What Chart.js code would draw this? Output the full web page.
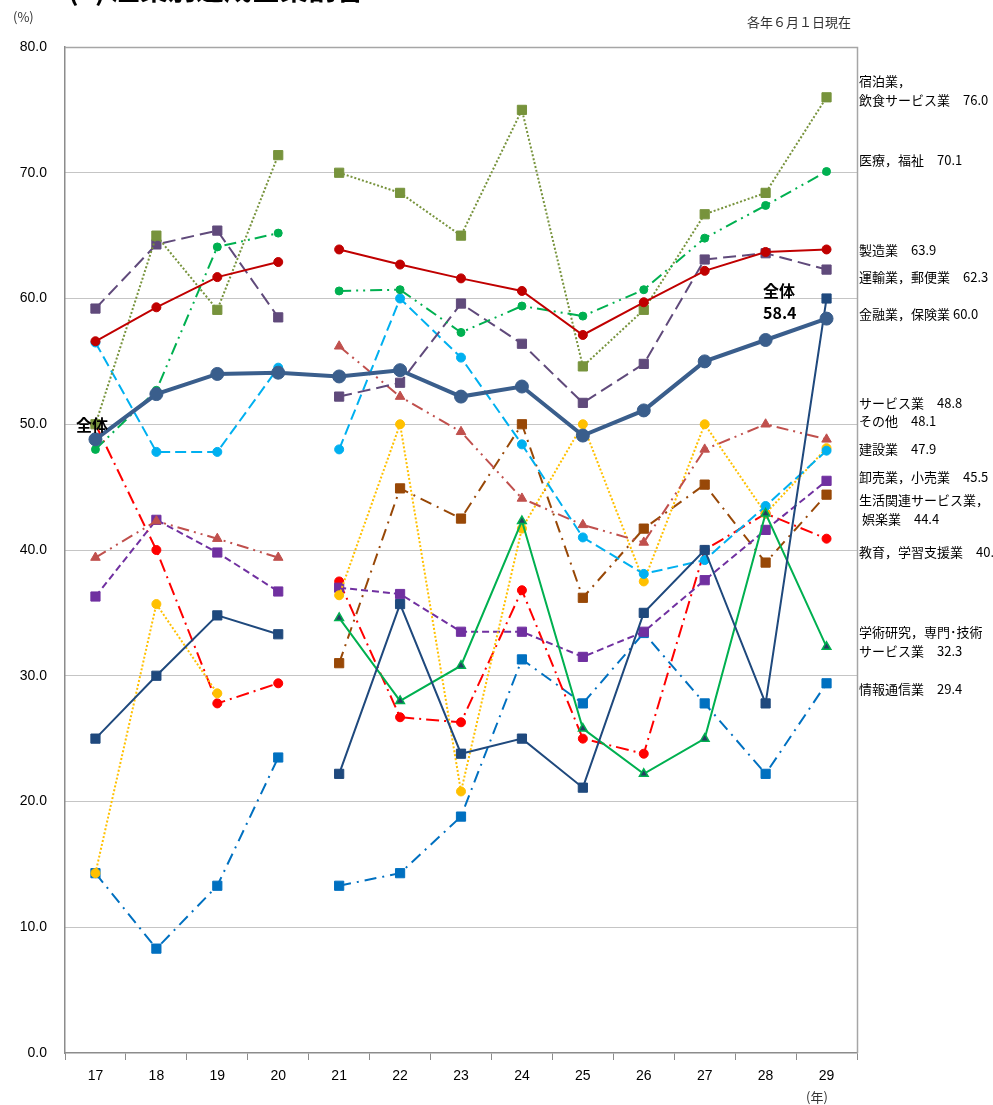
<!DOCTYPE html>
<html lang="ja">
<head>
<meta charset="utf-8">
<script src="https://cdn.jsdelivr.net/npm/chart.js@4/dist/chart.umd.min.js"></script>
<style>
  html, body { margin: 0; padding: 0; background: #fff; }
  #wrap { width: 993px; height: 1105px; position: relative; }
</style>
</head>
<body>
<div id="wrap"><canvas id="c" width="993" height="1105"></canvas></div>
<script>
// 年次（平成）
const years = ['17', '18', '19', '20', '21', '22', '23', '24', '25', '26', '27', '28', '29'];
const yTicks = [0, 10, 20, 30, 40, 50, 60, 70, 80];

// 産業別 達成企業割合（%）
const zentai      = [48.8, 52.4, 54.0, 54.1, 53.8, 54.3, 52.2, 53.0, 49.1, 51.1, 55.0, 56.7, 58.4];
const shukuhaku   = [50.0, 65.0, 59.1, 71.4, 70.0, 68.4, 65.0, 75.0, 54.6, 59.1, 66.7, 68.4, 76.0];
const iryo        = [48.0, 52.7, 64.1, 65.2, 60.6, 60.7, 57.3, 59.4, 58.6, 60.7, 64.8, 67.4, 70.1];
const seizo       = [56.6, 59.3, 61.7, 62.9, 63.9, 62.7, 61.6, 60.6, 57.1, 59.7, 62.2, 63.7, 63.9];
const unyu        = [59.2, 64.3, 65.4, 58.5, 52.2, 53.3, 59.6, 56.4, 51.7, 54.8, 63.1, 63.6, 62.3];
const kinyu       = [25.0, 30.0, 34.8, 33.3, 22.2, 35.7, 23.8, 25.0, 21.1, 35.0, 40.0, 27.8, 60.0];
const service     = [39.4, 42.3, 40.9, 39.4, 56.2, 52.2, 49.4, 44.1, 42.0, 40.6, 48.0, 50.0, 48.8];
const sonota      = [14.3, 35.7, 28.6, null, 36.4, 50.0, 20.8, 41.7, 50.0, 37.5, 50.0, 42.9, 48.1];
const kensetsu    = [56.5, 47.8, 47.8, 54.5, 48.0, 60.0, 55.3, 48.4, 41.0, 38.1, 39.2, 43.5, 47.9];
const oroshi      = [36.3, 42.4, 39.8, 36.7, 37.0, 36.5, 33.5, 33.5, 31.5, 33.5, 37.6, 41.6, 45.5];
const seikatsu    = [null, null, null, null, 31.0, 44.9, 42.5, 50.0, 36.2, 41.7, 45.2, 39.0, 44.4];
const kyoiku      = [50.0, 40.0, 27.8, 29.4, 37.5, 26.7, 26.3, 36.8, 25.0, 23.8, 40.0, 42.9, 40.9];
const gakujutsu   = [null, null, null, null, 34.6, 28.0, 30.8, 42.3, 25.8, 22.2, 25.0, 42.9, 32.3];
const joho        = [14.3, 8.3, 13.3, 23.5, 13.3, 14.3, 18.8, 31.3, 27.8, 33.4, 27.8, 22.2, 29.4];

// 平成20年と21年の間は産業分類が変わるため線をつながない
const breakAfter20 = {
  borderColor: ctx => (ctx.p0DataIndex === 3 ? 'rgba(0,0,0,0)' : undefined)
};

function series(label, data, color, opts) {
  return Object.assign({
    label: label,
    data: data,
    borderColor: color,
    backgroundColor: color,
    pointBackgroundColor: color,
    pointBorderColor: color,
    borderWidth: 2,
    pointRadius: 4,
    pointHoverRadius: 4,
    pointBorderWidth: 1,
    tension: 0,
    spanGaps: false,
    segment: breakAfter20
  }, opts || {});
}

const datasets = [
  series('全体', zentai, '#3A5E8C', { borderWidth: 4, pointRadius: 6.5, segment: undefined }),
  series('製造業', seizo, '#C00000', { pointRadius: 4.5 }),
  series('金融業，保険業', kinyu, '#1F497D', { pointStyle: 'rect', pointRadius: 6.5 }),
  series('学術研究，専門・技術サービス業', gakujutsu, '#00B050', {
    pointStyle: 'triangle', pointRadius: 5, pointBackgroundColor: '#244062', pointBorderColor: '#00B050', pointBorderWidth: 1.5
  }),
  series('医療，福祉', iryo, '#00B050', { borderDash: [12, 5, 2, 5, 2, 5], pointRadius: 4 }),
  series('宿泊業，飲食サービス業', shukuhaku, '#77933C', { borderDash: [2, 2], pointStyle: 'rect', pointRadius: 6.5 }),
  series('運輸業，郵便業', unyu, '#604A7B', { borderDash: [13, 6], pointStyle: 'rect', pointRadius: 6.5 }),
  series('建設業', kensetsu, '#00B0F0', { borderDash: [11, 5], pointRadius: 4.5 }),
  series('サービス業', service, '#C0504D', { borderDash: [12, 5, 2, 5, 2, 5], pointStyle: 'triangle', pointRadius: 5.5 }),
  series('その他', sonota, '#FFC000', { borderDash: [2, 2], pointRadius: 4.5 }),
  series('卸売業，小売業', oroshi, '#7030A0', { borderDash: [7, 4], pointStyle: 'rect', pointRadius: 6.5 }),
  series('生活関連サービス業，娯楽業', seikatsu, '#984807', { borderDash: [12, 6, 2, 6], pointStyle: 'rect', pointRadius: 6.5 }),
  series('教育，学習支援業', kyoiku, '#FF0000', { borderDash: [13, 5, 2, 5], pointRadius: 4.5 }),
  series('情報通信業', joho, '#0070C0', { borderDash: [12, 6, 2, 6], pointStyle: 'rect', pointRadius: 6.5 })
];

// 右側の業種名ラベル
const sideLabels = [
  { y: 81,  text: '宿泊業，' },
  { y: 100, text: '飲食サービス業　76.0' },
  { y: 160, text: '医療，福祉　70.1' },
  { y: 250, text: '製造業　63.9' },
  { y: 277, text: '運輸業，郵便業　62.3' },
  { y: 314, text: '金融業，保険業 60.0' },
  { y: 403, text: 'サービス業　48.8' },
  { y: 421, text: 'その他　48.1' },
  { y: 449, text: '建設業　47.9' },
  { y: 477, text: '卸売業，小売業　45.5' },
  { y: 500, text: '生活関連サービス業，' },
  { y: 519, text: ' 娯楽業　44.4' },
  { y: 552, text: '教育，学習支援業　40.9' },
  { y: 632, text: '学術研究，専門･技術' },
  { y: 651, text: 'サービス業　32.3' },
  { y: 689, text: '情報通信業　29.4' }
];

const jpFont = '"Noto Sans CJK JP", "Noto Sans", sans-serif';

const decorations = {
  id: 'decorations',
  beforeDraw(chart) {
    const ctx = chart.ctx;
    ctx.save();
    ctx.fillStyle = '#ffffff';
    ctx.fillRect(0, 0, chart.width, chart.height);
    ctx.restore();
  },
  beforeDatasetsDraw(chart) {
    const { ctx, chartArea: a } = chart;
    ctx.save();
    ctx.strokeStyle = '#a6a6a6';
    ctx.lineWidth = 1.5;
    ctx.beginPath();
    ctx.moveTo(a.left, a.top + 0.5);
    ctx.lineTo(a.right + 0.5, a.top + 0.5);
    ctx.lineTo(a.right + 0.5, a.bottom);
    ctx.stroke();
    ctx.restore();
  },
  afterDraw(chart) {
    const { ctx, chartArea: a } = chart;
    ctx.save();
    // 表題（上端で切れている）
    ctx.fillStyle = '#000';
    ctx.font = 'bold 28px ' + jpFont;
    ctx.textBaseline = 'alphabetic';
    ctx.textAlign = 'left';
    ctx.fillText('(3) 産業別達成企業割合', 68, 0);

    ctx.font = '13px ' + jpFont;
    ctx.textBaseline = 'middle';
    ctx.fillStyle = '#333';
    ctx.fillText('(%)', 13, 17);
    ctx.textAlign = 'right';
    ctx.fillText('各年６月１日現在', 851, 22);
    ctx.textAlign = 'left';
    ctx.fillText('(年)', 806, 1097);

    ctx.fillStyle = '#000';
    ctx.font = '13px ' + jpFont;
    sideLabels.forEach(l => ctx.fillText(l.text, a.right + 2, l.y));

    // 全体のラベル
    ctx.font = 'bold 16px ' + jpFont;
    ctx.fillText('全体', 76, 425);
    ctx.fillText('全体', 763, 291);
    ctx.fillText('58.4', 763, 313);
    ctx.restore();
  }
};

new Chart(document.getElementById('c'), {
  type: 'line',
  data: { labels: years, datasets: datasets },
  options: {
    responsive: false,
    animation: false,
    events: [],
    layout: { padding: { top: 47, right: 136, left: 0, bottom: 0 } },
    plugins: { legend: { display: false }, tooltip: { enabled: false } },
    scales: {
      x: {
        type: 'category',
        offset: true,
        afterFit: s => { s.height = 52; },
        grid: {
          display: true,
          offset: true,
          drawOnChartArea: false,
          drawTicks: true,
          tickLength: 7,
          color: '#8c8c8c',
          lineWidth: 1
        },
        border: { display: true, color: '#8c8c8c', width: 1.5 },
        ticks: {
          color: '#000',
          padding: 8,
          maxRotation: 0,
          font: { family: '"Liberation Sans Narrow", "Liberation Sans", sans-serif', size: 14 }
        }
      },
      y: {
        min: 0,
        max: 80,
        afterFit: s => { s.width = 65; },
        afterBuildTicks: s => { s.ticks = yTicks.map(v => ({ value: v })); },
        grid: {
          display: true,
          drawTicks: false,
          color: ctx => (ctx.tick && (ctx.tick.value === 0 || ctx.tick.value === 80) ? 'rgba(0,0,0,0)' : '#8a8a8a'),
          lineWidth: 1
        },
        border: { display: true, color: '#8c8c8c', width: 1.5, dash: [1, 1] },
        ticks: {
          color: '#000',
          padding: 18,
          callback: v => Number(v).toFixed(1),
          font: { family: '"Liberation Sans", sans-serif', size: 14 }
        }
      }
    }
  },
  plugins: [decorations]
});
</script>
</body>
</html>
